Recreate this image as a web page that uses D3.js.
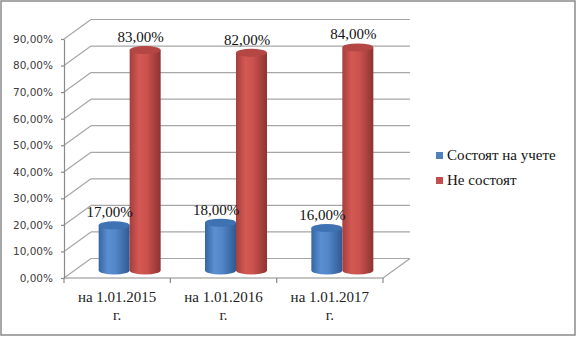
<!DOCTYPE html>
<html>
<head>
<meta charset="utf-8">
<script src="https://cdn.jsdelivr.net/npm/d3@7"></script>
<style>
  body { margin: 0; background: #fff; }
  svg { display: block; }
</style>
</head>
<body>
<div id="chart"></div>
<script>
// chart data
var categories = ["на 1.01.2015 г.", "на 1.01.2016 г.", "на 1.01.2017 г."];
var seriesNames = ["Состоят на учете", "Не состоят"];
var registered = [0.17, 0.18, 0.16];
var notRegistered = [0.83, 0.82, 0.84];
var yTicks = [0, 0.1, 0.2, 0.3, 0.4, 0.5, 0.6, 0.7, 0.8, 0.9];
var seriesColors = ["#4F81BD", "#C0504D"];

var svgWidth = 577;
var svgHeight = 337;
var serifFont = '"Liberation Serif"';

// 3d box: front plane and depth shift to the back wall
var DX = 27, DY = -19.5;
// cylinders stand a bit into the depth
var CX = 12.5, CY = -7.5;
var cylW = 31, ry = 4;

var svg = d3.select("#chart")
  .append("svg")
  .attr("width", svgWidth)
  .attr("height", svgHeight)
  .style("font-family", serifFont);

var defs = svg.append("defs");

// shading for the cylinders
function addGradient(id, stops) {
  var g = defs.append("linearGradient")
    .attr("id", id)
    .attr("x1", "0%").attr("x2", "100%")
    .attr("y1", "0%").attr("y2", "0%");
  stops.forEach(function(s) {
    g.append("stop").attr("offset", s[0]).attr("stop-color", s[1]);
  });
}
addGradient("gradBlue", [["0%", "#3566a3"], ["30%", "#5a8fd2"], ["55%", "#5286c8"], ["100%", "#2f5a91"]]);
addGradient("gradRed", [["0%", "#a43f3c"], ["30%", "#d45854"], ["55%", "#cb524e"], ["100%", "#8e3331"]]);
var topColors = ["#3f72b3", "#b44643"];
var fills = ["url(#gradBlue)", "url(#gradRed)"];

// outer frame
svg.append("rect")
  .attr("x", 1).attr("y", 1)
  .attr("width", 574).attr("height", 334)
  .attr("fill", "none")
  .attr("stroke", "#8a8a8a")
  .attr("stroke-width", 1.5);

var x = d3.scaleBand()
  .domain(categories)
  .range([64, 383]);

var y = d3.scaleLinear()
  .domain([0, 0.9])
  .range([278, 39]);

var x0 = x.range()[0], x1 = x.range()[1];
var gridColor = "#a6a6a6";

// back wall gridlines
svg.append("g").selectAll("line")
  .data(yTicks)
  .enter()
  .append("line")
  .attr("x1", x0 + DX).attr("x2", x1 + DX)
  .attr("y1", d => y(d) + DY).attr("y2", d => y(d) + DY)
  .attr("stroke", gridColor)
  .attr("stroke-width", 1.2);

// side wall diagonals
svg.append("g").selectAll("line")
  .data(yTicks)
  .enter()
  .append("line")
  .attr("x1", x0).attr("x2", x0 + DX)
  .attr("y1", d => y(d)).attr("y2", d => y(d) + DY)
  .attr("stroke", gridColor)
  .attr("stroke-width", 1.2);

// floor right edge
svg.append("line")
  .attr("x1", x1).attr("y1", y(0))
  .attr("x2", x1 + DX).attr("y2", y(0) + DY)
  .attr("stroke", gridColor)
  .attr("stroke-width", 1.2);

// front floor line + category ticks
var tickXs = categories.map(c => x(c)).concat([x1]);
svg.append("line")
  .attr("x1", x0).attr("x2", x1)
  .attr("y1", y(0)).attr("y2", y(0))
  .attr("stroke", "#8a8a8a")
  .attr("stroke-width", 1.2);
svg.append("g").selectAll("line")
  .data(tickXs)
  .enter()
  .append("line")
  .attr("x1", d => d).attr("x2", d => d)
  .attr("y1", y(0)).attr("y2", y(0) + 5)
  .attr("stroke", "#8a8a8a")
  .attr("stroke-width", 1.2);

// left axis
var leftAxis = d3.axisLeft(y)
  .tickValues(yTicks)
  .tickSize(3)
  .tickSizeOuter(0)
  .tickPadding(8)
  .tickFormat(d => d3.format(".2f")(d * 100).replace(".", ",") + "%");

var yAxisG = svg.append("g")
  .attr("transform", `translate(${x0},0)`)
  .call(leftAxis);
yAxisG.select(".domain").attr("stroke", "#8a8a8a").attr("stroke-width", 1.2);
yAxisG.selectAll(".tick line").attr("stroke", "#8a8a8a").attr("stroke-width", 1.2);
yAxisG.selectAll(".tick text")
  .style("font-family", '"DejaVu Sans"')
  .style("font-size", "10.5px")
  .attr("fill", "#404040");

// category labels (two lines)
var catG = svg.append("g")
  .style("font-family", serifFont)
  .style("font-size", "15px");
categories.forEach(function(d) {
  var cut = d.lastIndexOf(" ");
  var cx = x(d) + x.bandwidth() / 2;
  catG.append("text")
    .attr("x", cx).attr("y", 302)
    .attr("text-anchor", "middle")
    .style("font-family", serifFont)
    .attr("fill", "#222")
    .text(d.slice(0, cut));
  catG.append("text")
    .attr("x", cx).attr("y", 320)
    .attr("text-anchor", "middle")
    .style("font-family", serifFont)
    .attr("fill", "#222")
    .text(d.slice(cut + 1));
});

// cylinders
var series = [registered, notRegistered];
var cylData = [];
categories.forEach(function(c, i) {
  series.forEach(function(vals, s) {
    var cx = x(c) + x.bandwidth() / 2 + CX + (s === 0 ? -cylW / 2 : cylW / 2);
    cylData.push({ cat: c, s: s, v: vals[i], cx: cx, yTop: y(vals[i]) + CY, yBot: y(0) + CY });
  });
});

var cyl = svg.append("g").selectAll("g")
  .data(cylData)
  .enter()
  .append("g");

cyl.append("path")
  .attr("d", function(d) {
    var l = d.cx - cylW / 2, r = d.cx + cylW / 2;
    return `M${l},${d.yTop} L${l},${d.yBot} A${cylW / 2},${ry} 0 0 0 ${r},${d.yBot} L${r},${d.yTop} Z`;
  })
  .attr("fill", d => fills[d.s]);

cyl.append("ellipse")
  .attr("cx", d => d.cx)
  .attr("cy", d => d.yTop)
  .attr("rx", cylW / 2)
  .attr("ry", ry)
  .attr("fill", d => topColors[d.s]);

// value labels
svg.append("g").selectAll("text")
  .data(cylData)
  .enter()
  .append("text")
  .attr("x", d => d.cx - 4.5)
  .attr("y", d => d.yTop - 8)
  .attr("text-anchor", "middle")
  .style("font-family", serifFont)
  .style("font-size", "15px")
  .attr("fill", "#111")
  .text(d => d3.format(".2f")(d.v * 100).replace(".", ",") + "%");

// legend
var legend = svg.append("g").selectAll("g")
  .data(seriesNames)
  .enter()
  .append("g")
  .attr("transform", (d, i) => `translate(436, ${152 + i * 25})`);

legend.append("rect")
  .attr("width", 7).attr("height", 7)
  .attr("fill", (d, i) => seriesColors[i]);

legend.append("text")
  .attr("x", 11)
  .attr("y", 8)
  .style("font-family", serifFont)
  .style("font-size", "15px")
  .attr("fill", "#111")
  .text(d => d);
</script>
</body>
</html>
